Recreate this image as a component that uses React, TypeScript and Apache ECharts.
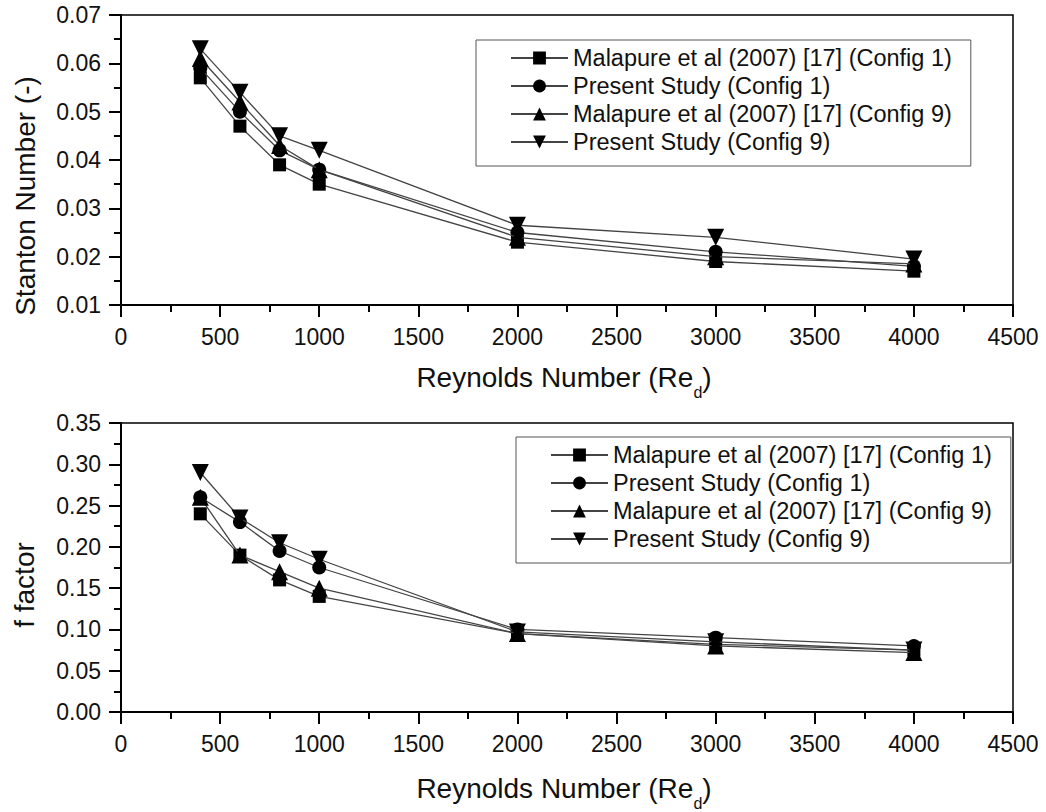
import { useEffect, useRef } from "react";
import * as echarts from "echarts";

const reynolds = [400, 600, 800, 1000, 2000, 3000, 4000];
const seriesNames = [
  "Malapure et al (2007) [17] (Config 1)",
  "Present Study (Config 1)",
  "Malapure et al (2007) [17] (Config 9)",
  "Present Study (Config 9)",
];
const stantonMalapure1 = [0.057, 0.047, 0.039, 0.035, 0.023, 0.019, 0.017];
const stantonPresent1 = [0.059, 0.05, 0.042, 0.038, 0.025, 0.021, 0.018];
const stantonMalapure9 = [0.061, 0.052, 0.043, 0.038, 0.024, 0.02, 0.0185];
const stantonPresent9 = [0.063, 0.054, 0.045, 0.042, 0.0265, 0.024, 0.0195];

const fMalapure1 = [0.24, 0.19, 0.16, 0.14, 0.095, 0.082, 0.075];
const fPresent1 = [0.26, 0.23, 0.195, 0.175, 0.1, 0.09, 0.08];
const fMalapure9 = [0.26, 0.19, 0.17, 0.15, 0.095, 0.08, 0.072];
const fPresent9 = [0.29, 0.235, 0.205, 0.185, 0.097, 0.085, 0.075];

const symbols = ["rect", "circle", "triangle", "triangle"];
const symbolRotates = [0, 0, 0, 180];
const symbolSizes = [13, 14, 17, 17];

const FONT = "'Liberation Sans', Arial, sans-serif";

export default function App() {
  const ref = useRef<HTMLDivElement>(null);
  useEffect(() => {
    if (!ref.current) return;
    const chart = echarts.init(ref.current, null, { renderer: "svg" });

    const mkSeries = (data: number[][], idx: number, axis: number) => ({
      type: "line",
      name: seriesNames[idx],
      xAxisIndex: axis,
      yAxisIndex: axis,
      data,
      symbol: symbols[idx],
      symbolRotate: symbolRotates[idx],
      symbolSize: symbolSizes[idx],
      lineStyle: { color: "#444", width: 1.3 },
      itemStyle: { color: "#000" },
      z: 2 + idx,
    });
    const pair = (ys: number[]) => reynolds.map((x, i) => [x, ys[i]]);

    const xAxisBase = {
      type: "value",
      min: 0,
      max: 4500,
      interval: 500,
      axisLine: { show: true, lineStyle: { color: "#000", width: 2 } },
      axisTick: { show: true, length: 12, lineStyle: { color: "#000", width: 2 } },
      minorTick: { show: true, splitNumber: 2, length: 7, lineStyle: { color: "#000", width: 2 } },
      splitLine: { show: false },
      axisLabel: {
        fontSize: 23,
        color: "#111",
        fontFamily: FONT,
        margin: 20,
        formatter: (v: number) => String(Math.round(v)),
      },
    };
    const yAxisBase = {
      type: "value",
      axisLine: { show: true, lineStyle: { color: "#000", width: 2 } },
      axisTick: { show: true, length: 12, lineStyle: { color: "#000", width: 2 } },
      minorTick: { show: true, splitNumber: 2, length: 7, lineStyle: { color: "#000", width: 2 } },
      splitLine: { show: false },
      axisLabel: {
        fontSize: 23,
        color: "#111",
        fontFamily: FONT,
        margin: 20,
        formatter: (v: number) => v.toFixed(2),
      },
    };

    const legendBase = {
      orient: "vertical",
      backgroundColor: "#fff",
      borderColor: "#555",
      borderWidth: 1,
      borderRadius: 0,
      padding: [6, 19, 12, 34],
      itemGap: 4,
      itemWidth: 57,
      itemHeight: 16,
      textStyle: { fontSize: 23.5, color: "#111", fontFamily: FONT },
      data: seriesNames,
    };

    const xTitle = (y: number) => ({
      type: "text",
      x: 564,
      y,
      style: {
        text: "{a|Reynolds Number (Re}{s|d}{a|)}",
        align: "center",
        verticalAlign: "middle",
        rich: {
          a: { fontSize: 28, fontFamily: FONT, fill: "#111", lineHeight: 32 },
          s: { fontSize: 16, fontFamily: FONT, fill: "#111", lineHeight: 32, padding: [30, 0, 0, 0] },
        },
      },
    });

    chart.setOption({
      animation: false,
      backgroundColor: "#fff",
      grid: [
        { left: 121, top: 15, width: 892, height: 290, show: true, borderColor: "#000", borderWidth: 1.5, backgroundColor: "transparent" },
        { left: 121, top: 423, width: 892, height: 289, show: true, borderColor: "#000", borderWidth: 1.5, backgroundColor: "transparent" },
      ],
      xAxis: [
        { ...xAxisBase, gridIndex: 0 },
        { ...xAxisBase, gridIndex: 1 },
      ],
      yAxis: [
        { ...yAxisBase, gridIndex: 0, min: 0.01, max: 0.07, interval: 0.01 },
        { ...yAxisBase, gridIndex: 1, min: 0, max: 0.35, interval: 0.05 },
      ],
      legend: [
        { ...legendBase, left: 476, top: 40 },
        { ...legendBase, left: 516, top: 437 },
      ],
      graphic: [
        xTitle(377),
        xTitle(788),
        {
          type: "text",
          x: 25,
          y: 196,
          rotation: Math.PI / 2,
          style: { text: "Stanton Number (-)", fontSize: 28, fontFamily: FONT, fill: "#111", align: "center", verticalAlign: "middle" },
        },
        {
          type: "text",
          x: 24,
          y: 585,
          rotation: Math.PI / 2,
          style: { text: "f factor", fontSize: 28, fontFamily: FONT, fill: "#111", align: "center", verticalAlign: "middle" },
        },
      ],
      series: [
        mkSeries(pair(stantonMalapure1), 0, 0),
        mkSeries(pair(stantonPresent1), 1, 0),
        mkSeries(pair(stantonMalapure9), 2, 0),
        mkSeries(pair(stantonPresent9), 3, 0),
        mkSeries(pair(fMalapure1), 0, 1),
        mkSeries(pair(fPresent1), 1, 1),
        mkSeries(pair(fMalapure9), 2, 1),
        mkSeries(pair(fPresent9), 3, 1),
      ],
    });
    return () => chart.dispose();
  }, []);
  return <div ref={ref} style={{ position: "absolute", left: 0, top: 0, width: 1046, height: 812 }} />;
}
